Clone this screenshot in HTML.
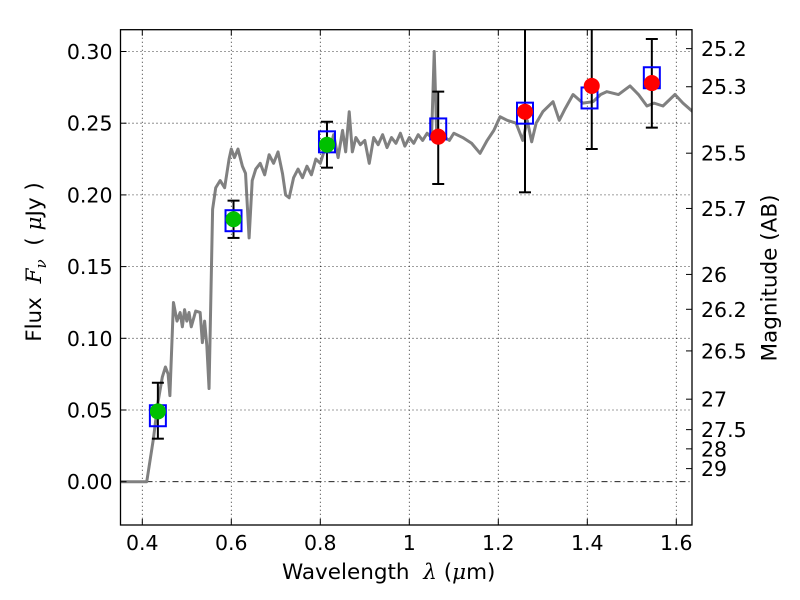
<!DOCTYPE html>
<html><head><meta charset="utf-8"><style>
body{margin:0;background:#fff;}
svg{display:block;font-family:"DejaVu Sans","Liberation Sans",sans-serif;}
</style></head><body>
<svg id="c" width="800" height="600"></svg>
<script>
const specX=[0.35,0.41,0.425,0.435,0.445,0.452,0.458,0.462,0.47,0.478,0.485,0.49,0.495,0.5,0.505,0.51,0.52,0.53,0.535,0.54,0.545,0.55,0.558,0.565,0.575,0.585,0.595,0.6,0.607,0.615,0.625,0.632,0.64,0.647,0.655,0.665,0.675,0.685,0.695,0.705,0.715,0.722,0.73,0.74,0.75,0.76,0.77,0.78,0.79,0.8,0.81,0.82,0.83,0.84,0.85,0.857,0.865,0.872,0.88,0.89,0.9,0.91,0.92,0.93,0.94,0.95,0.96,0.97,0.98,0.99,1.0,1.01,1.02,1.03,1.04,1.05,1.056,1.062,1.07,1.08,1.09,1.1,1.12,1.14,1.159,1.175,1.19,1.204,1.22,1.24,1.255,1.265,1.275,1.285,1.3,1.323,1.337,1.35,1.368,1.39,1.413,1.43,1.444,1.47,1.496,1.515,1.534,1.55,1.57,1.597,1.615,1.637];
const specY=[0,0,0.03,0.055,0.073,0.08,0.075,0.06,0.125,0.112,0.118,0.108,0.12,0.112,0.118,0.108,0.119,0.118,0.097,0.112,0.095,0.065,0.19,0.205,0.21,0.205,0.225,0.232,0.226,0.232,0.22,0.215,0.17,0.21,0.218,0.222,0.214,0.228,0.222,0.23,0.215,0.2,0.198,0.212,0.218,0.212,0.22,0.214,0.225,0.222,0.232,0.23,0.242,0.226,0.245,0.23,0.258,0.23,0.24,0.235,0.238,0.222,0.24,0.235,0.242,0.233,0.24,0.236,0.243,0.234,0.24,0.236,0.242,0.238,0.243,0.24,0.3,0.238,0.244,0.24,0.238,0.243,0.24,0.236,0.229,0.238,0.245,0.2545,0.252,0.25,0.238,0.252,0.237,0.25,0.258,0.265,0.252,0.26,0.27,0.264,0.265,0.27,0.272,0.27,0.276,0.27,0.262,0.264,0.262,0.27,0.264,0.258];
const obsX=[0.435,0.605,0.815,1.065,1.26,1.41,1.545];
const obsY=[0.049,0.183,0.235,0.2406,0.258,0.276,0.278];
const errLo=[0.030,0.170,0.219,0.2076,0.2018,0.232,0.2469];
const errHi=[0.069,0.196,0.251,0.272,0.35,0.35,0.3087];
const modelX=[0.435,0.605,0.815,1.065,1.26,1.405,1.545];
const modelY=[0.046,0.182,0.237,0.246,0.257,0.2676,0.2817];
const obsColor=['#00c000','#00c000','#00c000','#ff0000','#ff0000','#ff0000','#ff0000'];
const xTicks=[0.4,0.6,0.8,1.0,1.2,1.4,1.6];
const xTickLabels=['0.4','0.6','0.8','1','1.2','1.4','1.6'];
const yTicks=[0,0.05,0.1,0.15,0.2,0.25,0.3];
const yTickLabels=['0.00','0.05','0.10','0.15','0.20','0.25','0.30'];
const magTicks=[25.2,25.3,25.5,25.7,26,26.2,26.5,27,27.5,28,29];
const magLabels=['25.2','25.3','25.5','25.7','26','26.2','26.5','27','27.5','28','29'];

const L=120.5,R=692,T=29.7,B=525;
const X=v=>142.3+(v-0.4)*445;
const Y=v=>481.7-v*1434;
const NS='http://www.w3.org/2000/svg';
const svg=document.getElementById('c');
function mk(tag,attrs,parent){const e=document.createElementNS(NS,tag);for(const k in attrs)e.setAttribute(k,attrs[k]);(parent||svg).appendChild(e);return e;}
const defs=mk('defs',{});const cp=mk('clipPath',{id:'clip'},defs);mk('rect',{x:L,y:T,width:R-L,height:B-T},cp);
const plot=mk('g',{'clip-path':'url(#clip)'});


xTicks.forEach(v=>{const g=mk('line',{x1:X(v),x2:X(v),y1:T,y2:B,stroke:'#000','stroke-width':0.8,'stroke-dasharray':'1,3'},plot);

});
yTicks.forEach(v=>{const g=mk('line',{x1:L,x2:R,y1:Y(v),y2:Y(v),stroke:'#000','stroke-width':0.8,'stroke-dasharray':v===0?'6,3,1,3':'1,3'},plot);

});
const sp=mk('polyline',{points:specX.map((x,i)=>X(x)+','+Y(specY[i])).join(' '),fill:'none',stroke:'#808080','stroke-width':3,'stroke-linejoin':'round'},plot);


obsX.forEach((x,i)=>{const g=mk('g',{},plot);


mk('line',{x1:X(x),x2:X(x),y1:Y(errLo[i]),y2:Y(errHi[i]),stroke:'#000','stroke-width':2},g);
mk('line',{x1:X(x)-6,x2:X(x)+6,y1:Y(errLo[i]),y2:Y(errLo[i]),stroke:'#000','stroke-width':2},g);
mk('line',{x1:X(x)-6,x2:X(x)+6,y1:Y(errHi[i]),y2:Y(errHi[i]),stroke:'#000','stroke-width':2},g);});
modelX.forEach((x,i)=>{const r=mk('rect',{x:X(x)-8,y:Y(modelY[i])-10.5,width:16,height:21,fill:'none',stroke:'#0000ff','stroke-width':2},plot);

});
obsX.forEach((x,i)=>{const c=mk('circle',{cx:X(x),cy:Y(obsY[i]),r:8,fill:obsColor[i]},plot);

});
const fr=mk('rect',{x:L,y:T,width:R-L,height:B-T,fill:'none',stroke:'#000','stroke-width':1.3});


xTicks.forEach((v,i)=>{mk('line',{x1:X(v),x2:X(v),y1:B,y2:B-6,stroke:'#000'});mk('line',{x1:X(v),x2:X(v),y1:T,y2:T+6,stroke:'#000'});
const t=mk('text',{x:X(v),y:B+25,'font-size':20.5,'text-anchor':'middle'});t.textContent=xTickLabels[i];

});
yTicks.forEach((v,i)=>{mk('line',{x1:L,x2:L+6,y1:Y(v),y2:Y(v),stroke:'#000'});
const t=mk('text',{x:L-8,y:Y(v)+7.5,'font-size':20.5,'text-anchor':'end'});t.textContent=yTickLabels[i];

});
magTicks.forEach((m,i)=>{const f=Math.pow(10,(23.9-m)/2.5);const y=Y(f);
mk('line',{x1:R-6,x2:R,y1:y,y2:y,stroke:'#000'});
const t=mk('text',{x:R+9,y:y+7.5,'font-size':20.5});t.textContent=magLabels[i];

});
</script>
<div style="position:absolute;left:0;top:0;width:800px;height:600px;pointer-events:none;font-family:'DejaVu Sans','Liberation Sans',sans-serif;">
<div style="position:absolute;left:282px;top:560px;font-size:21.5px;white-space:nowrap;">Wavelength &nbsp;<i style="font-family:'DejaVu Serif',serif;">λ</i> (<i style="font-family:'DejaVu Serif',serif;">μ</i>m)</div>
<div style="position:absolute;left:36px;top:262px;font-size:21.5px;white-space:nowrap;transform:translate(-50%,-50%) rotate(-90deg);">Flux &nbsp;<i style="font-family:'DejaVu Serif',serif;">F<sub style="font-size:15px">ν</sub></i> &nbsp;( <i style="font-family:'DejaVu Serif',serif;">μ</i>Jy )</div>
<div style="position:absolute;left:770px;top:278px;font-size:21.5px;white-space:nowrap;transform:translate(-50%,-50%) rotate(-90deg);">Magnitude (AB)</div>
</div>
</body></html>
